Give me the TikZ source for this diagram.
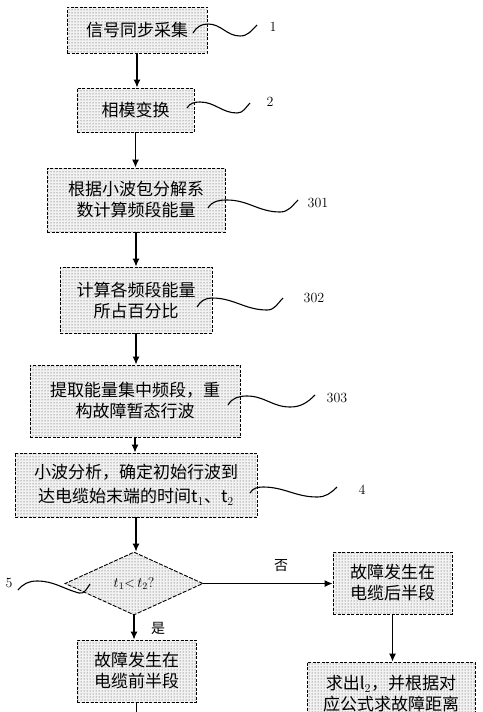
\documentclass[tikz,border=0pt]{standalone}
\usepackage{fontspec}
\newfontfamily\cjk{Noto Sans CJK SC}
\usetikzlibrary{arrows.meta,shapes.geometric,calc,patterns}
\begin{document}
\begin{tikzpicture}[x=1pt,y=1pt,
  dotfill/.style={preaction={fill=gray!10}, pattern=dots, pattern color=black!75},
  box/.style={draw, line width=0.9pt, dash pattern=on 3pt off 1.5pt,
    dotfill, align=center, inner sep=0pt,
    font=\cjk\fontsize{17}{21}\selectfont},
  dia/.style={diamond, draw, line width=0.9pt, dash pattern=on 4pt off 1.5pt,
    dotfill, inner sep=0pt, aspect=2.2},
  arr/.style={line width=1.1pt, -{Latex[length=8pt,width=7pt]}},
  plain/.style={line width=1.1pt},
  squig/.style={line width=1.1pt},
  num/.style={font=\fontsize{14}{14}\selectfont, inner sep=1pt},
  yn/.style={font=\cjk\fontsize{14}{14}\selectfont, inner sep=1pt}]
\useasboundingbox (0,0) rectangle (482,-712);
\clip (0,0) rectangle (482,-712);

\node[box, minimum width=140, minimum height=46] (b1) at (137,-30) {信号同步采集};
\node[box, minimum width=117, minimum height=44] (b2) at (135.5,-110) {相模变换};
\node[box, minimum width=178, minimum height=64] (b3) at (136,-200) {根据小波包分解系\\数计算频段能量};
\node[box, minimum width=152, minimum height=66] (b4) at (136,-300) {计算各频段能量\\所占百分比};
\node[box, minimum width=210, minimum height=72] (b5) at (135,-401) {提取能量集中频段，重\\构故障暂态行波};
\node[box, minimum width=242, minimum height=64, font=\cjk\fontsize{17}{24}\selectfont] (b6) at (136,-485) {小波分析，确定初始行波到\\达电缆始末端的时间t$_1$、t$_2$};
\node[dia, minimum width=138, minimum height=63] (d) at (134,-583.5) {\fontsize{14}{14}\selectfont $t_1$<\,$t_2$?};
\node[box, minimum width=119, minimum height=62] (rb) at (392.5,-583) {故障发生在\\电缆后半段};
\node[box, minimum width=119, minimum height=62] (lb) at (136.5,-671) {故障发生在\\电缆前半段};
\node[box, minimum width=168, minimum height=64] (rb2) at (391,-694) {求出l$_2$，并根据对\\应公式求故障距离};

\draw[arr] (b1.south) -- (b1.south |- b2.north);
\draw[arr] (b2.south) -- (b2.south |- b3.north);
\draw[arr] (b3.south) -- (b3.south |- b4.north);
\draw[arr] (b4.south) -- (b4.south |- b5.north);
\draw[arr] (b5.south) -- (b5.south |- b6.north);
\draw[arr] (b6.south) -- (b6.south |- d.north);
\draw[arr] (d.east) -- (d.east -| rb.west);
\draw[arr] (d.south) -- (d.south |- lb.north);
\draw[arr] (rb.south) -- (rb.south |- rb2.north);
\coordinate (lbend) at (136.5,-716);
\draw[plain] (lb.south) -- (lbend);

\node[yn] (no) at (281,-566) {否};
\node[yn] (yes) at (158,-628) {是};

\node[num] (l1) at (273,-27) {1};
\node[num] (l2) at (270,-102) {2};
\node[num] (l301) at (318,-203) {301};
\node[num] (l302) at (314,-298) {302};
\node[num] (l303) at (337,-398) {303};
\node[num] (l4) at (362,-490) {4};
\node[num] (l5) at (9,-583) {5};

\draw[squig] (193,-33) to[out=60,in=180] (208,-24) to[out=0,in=180] (240,-36) to[out=0,in=225] (257,-25);
\draw[squig] (187,-108) to[out=60,in=180] (200,-102) to[out=0,in=180] (237,-113) to[out=0,in=225] (250,-103);
\draw[squig] (208,-208) to[out=60,in=180] (227,-200) to[out=0,in=180] (280,-212) to[out=0,in=225] (298,-200);
\draw[squig] (197,-307) to[out=60,in=180] (212,-298) to[out=0,in=180] (267,-310) to[out=0,in=225] (283,-298);
\draw[squig] (228,-405) to[out=60,in=180] (247,-396) to[out=0,in=180] (290,-407) to[out=0,in=225] (315,-395);
\draw[squig] (250,-493) to[out=60,in=180] (263,-487) to[out=0,in=180] (317,-497) to[out=0,in=225] (337,-487);
\draw[squig] (18,-590) to[out=50,in=180] (37,-581) to[out=0,in=165] (79,-593) to[out=-15,in=235] (90,-584);
\end{tikzpicture}
\end{document}
